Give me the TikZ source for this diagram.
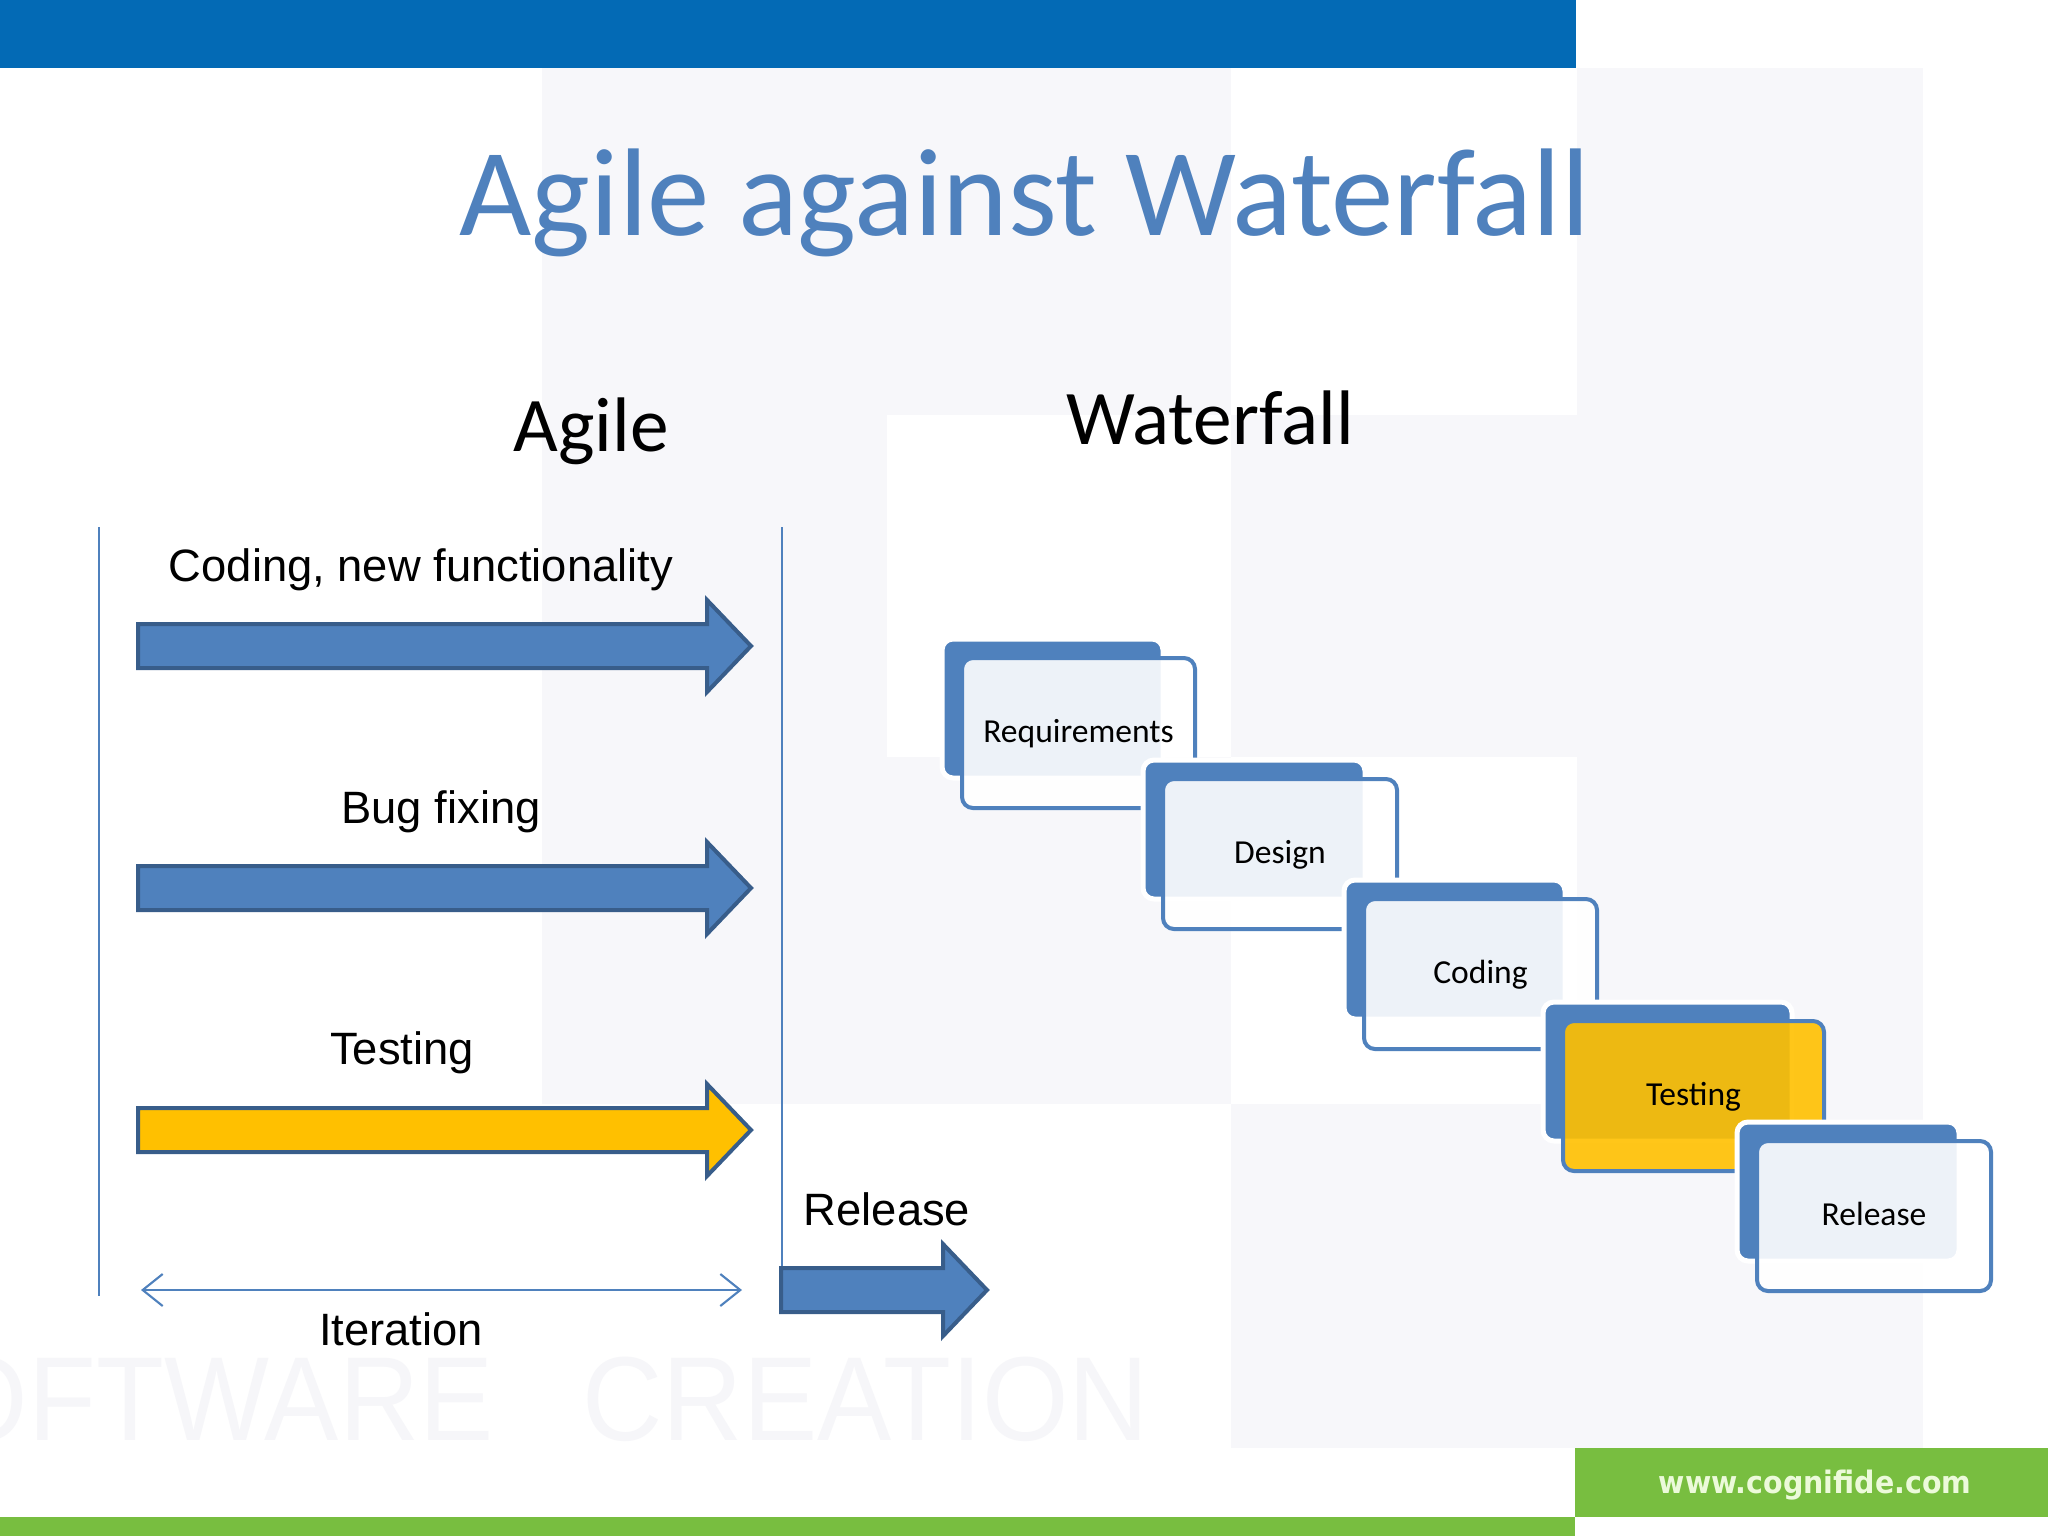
\documentclass[tikz,border=0pt]{standalone}
\usepackage{graphicx}
\usepackage{fontspec}
\setmainfont{Carlito}
\newfontfamily\arialf{Liberation Sans}
\newfontfamily\urlf{DejaVu Sans}
\usetikzlibrary{arrows.meta}
\definecolor{topblue}{RGB}{3,106,181}
\definecolor{accent}{RGB}{79,129,189}
\definecolor{accentdark}{RGB}{56,93,138}
\definecolor{gold}{RGB}{255,192,0}
\definecolor{bggray}{RGB}{247,247,250}
\definecolor{wmgray}{RGB}{246,246,249}
\definecolor{webgreen}{RGB}{120,190,64}
\definecolor{urltext}{RGB}{236,250,218}
\tikzset{
  blockarr/.style={draw=accentdark, line width=0.4mm, line join=miter},
  backbox/.style={fill=accent, draw=white, line width=0.5mm, rounded corners=1.1mm},
  frontbox/.style={draw=accent, line width=0.4mm, fill opacity=0.9, rounded corners=1.1mm},
  stagelabel/.style={anchor=base, inner sep=0pt, text=black, font=\fontsize{9.55}{11}\selectfont},
  armlabel/.style={anchor=base, inner sep=0pt, text=black, font=\arialf\fontsize{12.9}{15}\selectfont},
  header/.style={anchor=base, inner sep=0pt, text=black, font=\fontsize{22}{26}\selectfont},
  divider/.style={draw=accent, line width=0.7pt},
  iterarr/.style={draw=accent, line width=0.6pt, {Straight Barb[length=2mm,width=3.2mm]}-{Straight Barb[length=2mm,width=3.2mm]}},
  wmtext/.style={inner sep=0pt, text=wmgray, font=\arialf\fontsize{34}{40}\selectfont}
}
\newcommand{\agArrow}[5]{%
  \draw[blockarr, fill=#5] (#1,#4-22) -- (#2,#4-22) -- (#2,#4-46) -- (#3,#4) -- (#2,#4+46) -- (#2,#4+22) -- (#1,#4+22) -- cycle;}
\newcommand{\wfStage}[6]{%
  \draw[backbox] (#2,#3) rectangle (#2+#4,#3+139);
  \draw[frontbox, fill=#5] (#2+20,#3+19) rectangle (#2+#4+32,#3+169);
  \node[stagelabel] (#1) at (#2+26+#4/2,#3+103) {#6};}
\begin{document}
\begin{tikzpicture}[x=0.1mm,y=-0.1mm]
\useasboundingbox (0,0) rectangle (2048,1536);
\clip (0,0) rectangle (2048,1536);
\fill[white] (0,0) rectangle (2048,1536);
% watermark grid
\fill[bggray] (542,68) rectangle (1231,415);
\fill[bggray] (1577,68) rectangle (1923,415);
\fill[bggray] (542,415) rectangle (887,757);
\fill[bggray] (1231,415) rectangle (1923,757);
\fill[bggray] (542,757) rectangle (1231,1104);
\fill[bggray] (1577,757) rectangle (1923,1104);
\fill[bggray] (1231,1104) rectangle (1923,1448);
\node[wmtext, anchor=base east] (wmA) at (494,1440) {\scalebox{0.93}[1]{SOFTWARE}};
\node[wmtext, anchor=base west] (wmB) at (582,1440) {\scalebox{0.93}[1]{CREATION}};
% bars
\fill[topblue] (0,0) rectangle (1576,68);
\fill[webgreen] (1575,1448) rectangle (2048,1517);
\fill[webgreen] (0,1517) rectangle (1575,1536);
\node[anchor=base, inner sep=0pt, text=urltext, font=\urlf\bfseries\fontsize{8.8}{10}\selectfont] (url) at (1815,1493) {\scalebox{0.92}[1]{www.cognifide.com}};
% title
\node[anchor=base west, inner sep=0pt, text=accent, font=\fontsize{35.5}{40}\selectfont] (title) at (459,235) {Agile against Waterfall};
\node[header] (agileh) at (591,451) {Agile};
\node[header] (waterh) at (1210,444) {Waterfall};
% agile side
\coordinate (lt) at (99,527);
\coordinate (lb) at (99,1296);
\coordinate (rt) at (782,527);
\coordinate (rb) at (782,1268);
\draw[divider] (lt) -- (lb);
\draw[divider] (rt) -- (rb);
\node[armlabel] (codingl) at (421,581) {Coding, new functionality};
\agArrow{138}{707}{751}{646}{accent}
\node[armlabel] (bugl) at (441,823) {Bug fixing};
\agArrow{138}{707}{751}{888}{accent}
\node[armlabel] (testl) at (402,1064) {Testing};
\agArrow{138}{707}{751}{1130}{gold}
\node[armlabel] (rell) at (887,1225) {Release};
\agArrow{781}{943}{987}{1290}{accent}
\coordinate (itL) at (141,1290);
\coordinate (itR) at (742,1290);
\draw[iterarr] (itL) -- (itR);
\node[armlabel] (iterl) at (401,1345) {Iteration};
% waterfall side
\wfStage{req}{942}{639}{221}{white}{Requirements}
\wfStage{des}{1143}{760}{222}{white}{Design}
\wfStage{cod}{1344}{880}{221}{white}{Coding}
\wfStage{tes}{1543}{1002}{249}{gold}{Testing}
\wfStage{rel}{1737}{1122}{222}{white}{Release}
\end{tikzpicture}
\end{document}
